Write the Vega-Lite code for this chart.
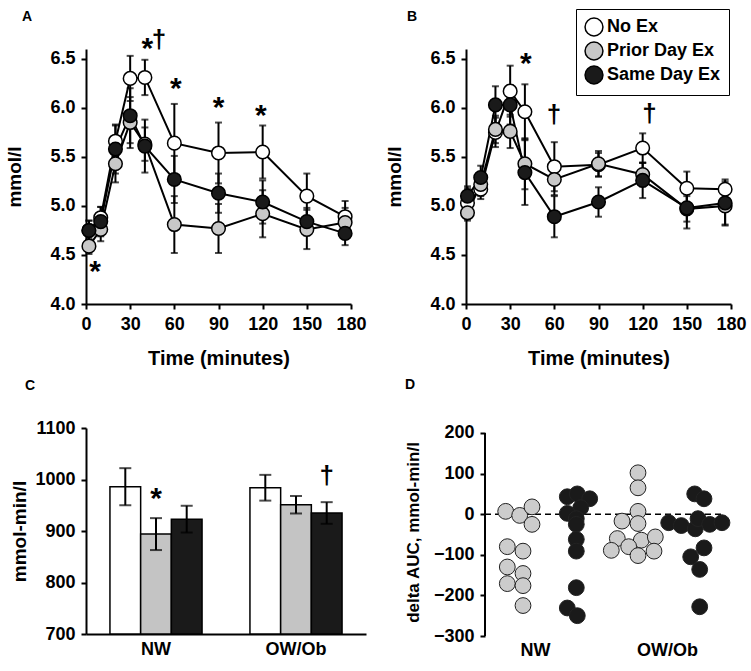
{
  "$schema": "https://vega.github.io/schema/vega-lite/v6.json",
  "background": "white",
  "autosize": {"type": "pad"},
  "padding": {"left": 5, "top": 8, "right": 5, "bottom": 5},
  "config": {
    "view": {"stroke": null},
    "font": "Liberation Sans",
    "axis": {
      "grid": false, "domainColor": "black", "domainWidth": 2, "tickColor": "black", "tickWidth": 2, "tickSize": 5,
      "labelFont": "Liberation Sans", "labelFontWeight": "bold", "labelFontSize": 18, "labelColor": "black", "labelPadding": 6, "labelFlush": false,
      "titleFont": "Liberation Sans", "titleFontWeight": "bold", "titleFontSize": 19, "titleColor": "black"
    },
    "title": {"font": "Liberation Sans", "fontWeight": "bold", "fontSize": 14, "color": "black", "anchor": "start", "frame": "group"}
  },
  "datasets": {
    "nw": [
      {"time": 2, "cond": "No Ex", "mean": 4.75, "err": 0.10},
      {"time": 10, "cond": "No Ex", "mean": 4.88, "err": 0.11},
      {"time": 20, "cond": "No Ex", "mean": 5.66, "err": 0.16},
      {"time": 30, "cond": "No Ex", "mean": 6.30, "err": 0.23},
      {"time": 40, "cond": "No Ex", "mean": 6.31, "err": 0.18},
      {"time": 60, "cond": "No Ex", "mean": 5.64, "err": 0.40},
      {"time": 90, "cond": "No Ex", "mean": 5.54, "err": 0.31},
      {"time": 120, "cond": "No Ex", "mean": 5.55, "err": 0.27},
      {"time": 150, "cond": "No Ex", "mean": 5.10, "err": 0.23},
      {"time": 176, "cond": "No Ex", "mean": 4.89, "err": 0.16},
      {"time": 2, "cond": "Prior Day Ex", "mean": 4.59, "err": 0.08},
      {"time": 10, "cond": "Prior Day Ex", "mean": 4.76, "err": 0.12},
      {"time": 20, "cond": "Prior Day Ex", "mean": 5.43, "err": 0.19},
      {"time": 30, "cond": "Prior Day Ex", "mean": 5.85, "err": 0.26},
      {"time": 40, "cond": "Prior Day Ex", "mean": 5.63, "err": 0.17},
      {"time": 60, "cond": "Prior Day Ex", "mean": 4.81, "err": 0.29},
      {"time": 90, "cond": "Prior Day Ex", "mean": 4.77, "err": 0.25},
      {"time": 120, "cond": "Prior Day Ex", "mean": 4.92, "err": 0.24},
      {"time": 150, "cond": "Prior Day Ex", "mean": 4.76, "err": 0.20},
      {"time": 176, "cond": "Prior Day Ex", "mean": 4.83, "err": 0.15},
      {"time": 2, "cond": "Same Day Ex", "mean": 4.75, "err": 0.10},
      {"time": 10, "cond": "Same Day Ex", "mean": 4.84, "err": 0.15},
      {"time": 20, "cond": "Same Day Ex", "mean": 5.58, "err": 0.25},
      {"time": 30, "cond": "Same Day Ex", "mean": 5.92, "err": 0.28},
      {"time": 40, "cond": "Same Day Ex", "mean": 5.61, "err": 0.27},
      {"time": 60, "cond": "Same Day Ex", "mean": 5.27, "err": 0.24},
      {"time": 90, "cond": "Same Day Ex", "mean": 5.13, "err": 0.20},
      {"time": 120, "cond": "Same Day Ex", "mean": 5.04, "err": 0.22},
      {"time": 150, "cond": "Same Day Ex", "mean": 4.84, "err": 0.14},
      {"time": 176, "cond": "Same Day Ex", "mean": 4.72, "err": 0.12}
    ],
    "ow": [
      {"time": 1, "cond": "No Ex", "mean": 5.03, "err": 0.15},
      {"time": 10, "cond": "No Ex", "mean": 5.17, "err": 0.10},
      {"time": 20, "cond": "No Ex", "mean": 5.75, "err": 0.15},
      {"time": 30, "cond": "No Ex", "mean": 6.17, "err": 0.26},
      {"time": 40, "cond": "No Ex", "mean": 5.96, "err": 0.28},
      {"time": 60, "cond": "No Ex", "mean": 5.40, "err": 0.25},
      {"time": 90, "cond": "No Ex", "mean": 5.42, "err": 0.12},
      {"time": 120, "cond": "No Ex", "mean": 5.59, "err": 0.15},
      {"time": 150, "cond": "No Ex", "mean": 5.18, "err": 0.17},
      {"time": 176, "cond": "No Ex", "mean": 5.17, "err": 0.10},
      {"time": 1, "cond": "Prior Day Ex", "mean": 4.93, "err": 0.08},
      {"time": 10, "cond": "Prior Day Ex", "mean": 5.22, "err": 0.12},
      {"time": 20, "cond": "Prior Day Ex", "mean": 5.78, "err": 0.14},
      {"time": 30, "cond": "Prior Day Ex", "mean": 5.76, "err": 0.17},
      {"time": 40, "cond": "Prior Day Ex", "mean": 5.43, "err": 0.26},
      {"time": 60, "cond": "Prior Day Ex", "mean": 5.27, "err": 0.16},
      {"time": 90, "cond": "Prior Day Ex", "mean": 5.43, "err": 0.13},
      {"time": 120, "cond": "Prior Day Ex", "mean": 5.32, "err": 0.12},
      {"time": 150, "cond": "Prior Day Ex", "mean": 4.97, "err": 0.13},
      {"time": 176, "cond": "Prior Day Ex", "mean": 5.00, "err": 0.20},
      {"time": 1, "cond": "Same Day Ex", "mean": 5.10, "err": 0.10},
      {"time": 10, "cond": "Same Day Ex", "mean": 5.29, "err": 0.12},
      {"time": 20, "cond": "Same Day Ex", "mean": 6.03, "err": 0.19},
      {"time": 30, "cond": "Same Day Ex", "mean": 6.03, "err": 0.20},
      {"time": 40, "cond": "Same Day Ex", "mean": 5.34, "err": 0.33},
      {"time": 60, "cond": "Same Day Ex", "mean": 4.89, "err": 0.21},
      {"time": 90, "cond": "Same Day Ex", "mean": 5.04, "err": 0.15},
      {"time": 120, "cond": "Same Day Ex", "mean": 5.26, "err": 0.18},
      {"time": 150, "cond": "Same Day Ex", "mean": 4.98, "err": 0.21},
      {"time": 176, "cond": "Same Day Ex", "mean": 5.03, "err": 0.22}
    ],
    "annA": [
      {"time": 6.1, "val": 4.39, "sym": "*"},
      {"time": 41.7, "val": 6.66, "sym": "*"},
      {"time": 61, "val": 6.255, "sym": "*"},
      {"time": 90, "val": 6.06, "sym": "*"},
      {"time": 118.8, "val": 5.98, "sym": "*"}
    ],
    "dagA": [
      {"time": 49.5, "val": 6.68, "sym": "†"}
    ],
    "lblA": [
      {"time": -40, "val": 6.93, "sym": "A"}
    ],
    "annB": [
      {"time": 40.6, "val": 6.51, "sym": "*"}
    ],
    "dagB": [
      {"time": 59.8, "val": 5.915, "sym": "†"},
      {"time": 124.7, "val": 5.93, "sym": "†"}
    ],
    "auc": [
      {"group": "NW", "cond": "No Ex", "value": 986, "err": 36},
      {"group": "NW", "cond": "Prior Day Ex", "value": 894, "err": 31},
      {"group": "NW", "cond": "Same Day Ex", "value": 923, "err": 26},
      {"group": "OW/Ob", "cond": "No Ex", "value": 984, "err": 25},
      {"group": "OW/Ob", "cond": "Prior Day Ex", "value": 951, "err": 17},
      {"group": "OW/Ob", "cond": "Same Day Ex", "value": 935, "err": 21}
    ],
    "annC": [
      {"group": "NW", "cond": "Prior Day Ex", "val": 974, "sym": "*"}
    ],
    "dagC": [
      {"group": "OW/Ob", "cond": "Same Day Ex", "val": 1005, "sym": "†"}
    ],
    "refs": [
      {"ylo": -300, "yhi": 200, "zero": 0, "xlo": 0, "xhi": 24}
    ],
    "dauc": [
      {"group": "NW", "cond": "Prior Day Ex", "pos": 2.07, "delta": 7},
      {"group": "NW", "cond": "Prior Day Ex", "pos": 3.47, "delta": -3},
      {"group": "NW", "cond": "Prior Day Ex", "pos": 4.7, "delta": 18},
      {"group": "NW", "cond": "Prior Day Ex", "pos": 4.7, "delta": -25},
      {"group": "NW", "cond": "Prior Day Ex", "pos": 2.23, "delta": -80},
      {"group": "NW", "cond": "Prior Day Ex", "pos": 3.8, "delta": -91},
      {"group": "NW", "cond": "Prior Day Ex", "pos": 2.23, "delta": -130},
      {"group": "NW", "cond": "Prior Day Ex", "pos": 3.8, "delta": -146},
      {"group": "NW", "cond": "Prior Day Ex", "pos": 2.23, "delta": -171},
      {"group": "NW", "cond": "Prior Day Ex", "pos": 3.8, "delta": -176},
      {"group": "NW", "cond": "Prior Day Ex", "pos": 3.8, "delta": -225},
      {"group": "NW", "cond": "Same Day Ex", "pos": 8.23, "delta": 43},
      {"group": "NW", "cond": "Same Day Ex", "pos": 9.23, "delta": 50},
      {"group": "NW", "cond": "Same Day Ex", "pos": 10.47, "delta": 38},
      {"group": "NW", "cond": "Same Day Ex", "pos": 9.57, "delta": 16},
      {"group": "NW", "cond": "Same Day Ex", "pos": 8.23, "delta": 2},
      {"group": "NW", "cond": "Same Day Ex", "pos": 9.13, "delta": -11},
      {"group": "NW", "cond": "Same Day Ex", "pos": 9.13, "delta": -25},
      {"group": "NW", "cond": "Same Day Ex", "pos": 9.13, "delta": -62},
      {"group": "NW", "cond": "Same Day Ex", "pos": 9.13, "delta": -91},
      {"group": "NW", "cond": "Same Day Ex", "pos": 9.13, "delta": -181},
      {"group": "NW", "cond": "Same Day Ex", "pos": 8.23, "delta": -231},
      {"group": "NW", "cond": "Same Day Ex", "pos": 9.23, "delta": -250},
      {"group": "OW/Ob", "cond": "Prior Day Ex", "pos": 15.3, "delta": 102},
      {"group": "OW/Ob", "cond": "Prior Day Ex", "pos": 15.3, "delta": 65},
      {"group": "OW/Ob", "cond": "Prior Day Ex", "pos": 15.3, "delta": 7},
      {"group": "OW/Ob", "cond": "Prior Day Ex", "pos": 13.7, "delta": -17},
      {"group": "OW/Ob", "cond": "Prior Day Ex", "pos": 15.3, "delta": -23},
      {"group": "OW/Ob", "cond": "Prior Day Ex", "pos": 13.23, "delta": -60},
      {"group": "OW/Ob", "cond": "Prior Day Ex", "pos": 15.63, "delta": -64},
      {"group": "OW/Ob", "cond": "Prior Day Ex", "pos": 17.03, "delta": -56},
      {"group": "OW/Ob", "cond": "Prior Day Ex", "pos": 12.63, "delta": -89},
      {"group": "OW/Ob", "cond": "Prior Day Ex", "pos": 14.37, "delta": -80},
      {"group": "OW/Ob", "cond": "Prior Day Ex", "pos": 15.3, "delta": -102},
      {"group": "OW/Ob", "cond": "Prior Day Ex", "pos": 16.9, "delta": -91},
      {"group": "OW/Ob", "cond": "Same Day Ex", "pos": 20.97, "delta": 50},
      {"group": "OW/Ob", "cond": "Same Day Ex", "pos": 21.9, "delta": 38},
      {"group": "OW/Ob", "cond": "Same Day Ex", "pos": 18.37, "delta": -21},
      {"group": "OW/Ob", "cond": "Same Day Ex", "pos": 19.63, "delta": -28},
      {"group": "OW/Ob", "cond": "Same Day Ex", "pos": 21.03, "delta": -36},
      {"group": "OW/Ob", "cond": "Same Day Ex", "pos": 21.3, "delta": -11},
      {"group": "OW/Ob", "cond": "Same Day Ex", "pos": 22.47, "delta": -25},
      {"group": "OW/Ob", "cond": "Same Day Ex", "pos": 23.7, "delta": -21},
      {"group": "OW/Ob", "cond": "Same Day Ex", "pos": 21.9, "delta": -83},
      {"group": "OW/Ob", "cond": "Same Day Ex", "pos": 20.57, "delta": -105},
      {"group": "OW/Ob", "cond": "Same Day Ex", "pos": 21.47, "delta": -136},
      {"group": "OW/Ob", "cond": "Same Day Ex", "pos": 21.47, "delta": -228}
    ]
  },
  "resolve": {"scale": {"x": "independent", "y": "independent", "fill": "independent"}, "axis": {"x": "independent", "y": "independent"}, "legend": {"fill": "independent"}},
  "bounds": "flush",
  "spacing": 379,
  "vconcat": [
    {
      "bounds": "flush",
      "spacing": 115,
      "resolve": {"scale": {"x": "independent", "y": "independent", "fill": "independent"}, "axis": {"x": "independent", "y": "independent"}, "legend": {"fill": "independent"}},
      "hconcat": [
        {
          "width": 265, "height": 255,
          "layer": [
            {
              "data": {"name": "nw"},
              "mark": {"type": "line", "color": "black", "strokeWidth": 2},
              "encoding": {
                "x": {"field": "time", "type": "quantitative", "title": "Time (minutes)", "scale": {"domain": [0, 180], "nice": false},
                      "axis": {"values": [0, 30, 60, 90, 120, 150, 180], "titlePadding": 15, "titleFontSize": 20}},
                "y": {"field": "mean", "type": "quantitative", "title": "mmol/l", "scale": {"domain": [4, 6.6], "nice": false, "zero": false},
                      "axis": {"values": [4, 4.5, 5, 5.5, 6, 6.5], "format": ".1f", "titlePadding": 25}},
                "detail": {"field": "cond"}
              }
            },
            {
              "data": {"name": "nw"},
              "mark": {"type": "errorbar", "color": "black", "thickness": 2, "ticks": {"size": 7, "color": "black"}},
              "encoding": {
                "x": {"field": "time", "type": "quantitative", "title": "Time (minutes)"},
                "y": {"field": "mean", "type": "quantitative", "title": "mmol/l"},
                "yError": {"field": "err"}
              }
            },
            {
              "data": {"name": "nw"},
              "mark": {"type": "point", "shape": "circle", "filled": true, "size": 185, "stroke": "black", "strokeWidth": 1.5, "opacity": 1},
              "encoding": {
                "x": {"field": "time", "type": "quantitative", "title": "Time (minutes)"},
                "y": {"field": "mean", "type": "quantitative", "title": "mmol/l"},
                "fill": {"field": "cond", "type": "nominal", "scale": {"domain": ["No Ex", "Prior Day Ex", "Same Day Ex"], "range": ["white", "#c8c8c8", "#1a1a1a"]}, "legend": null}
              }
            },
            {
              "data": {"name": "annA"},
              "mark": {"type": "text", "font": "Liberation Sans", "fontWeight": "bold", "fontSize": 30, "baseline": "alphabetic", "dy": 15, "color": "black"},
              "encoding": {
                "x": {"field": "time", "type": "quantitative", "title": "Time (minutes)"},
                "y": {"field": "val", "type": "quantitative", "title": "mmol/l"},
                "text": {"field": "sym"}
              }
            },
            {
              "data": {"name": "dagA"},
              "mark": {"type": "text", "font": "Liberation Sans", "fontWeight": "bold", "fontSize": 26, "baseline": "alphabetic", "dy": 7, "color": "black"},
              "encoding": {
                "x": {"field": "time", "type": "quantitative", "title": "Time (minutes)"},
                "y": {"field": "val", "type": "quantitative", "title": "mmol/l"},
                "text": {"field": "sym"}
              }
            },
            {
              "data": {"name": "lblA"},
              "mark": {"type": "text", "font": "Liberation Sans", "fontWeight": "bold", "fontSize": 14, "baseline": "middle", "align": "center", "color": "black"},
              "encoding": {
                "x": {"field": "time", "type": "quantitative", "title": "Time (minutes)"},
                "y": {"field": "val", "type": "quantitative", "title": "mmol/l"},
                "text": {"field": "sym"}
              }
            }
          ]
        },
        {
          "width": 265, "height": 255,
          "title": {"text": "B", "dx": -59, "offset": -15},
          "layer": [
            {
              "data": {"name": "ow"},
              "mark": {"type": "line", "color": "black", "strokeWidth": 2},
              "encoding": {
                "x": {"field": "time", "type": "quantitative", "title": "Time (minutes)", "scale": {"domain": [0, 180], "nice": false},
                      "axis": {"values": [0, 30, 60, 90, 120, 150, 180], "titlePadding": 15, "titleFontSize": 20}},
                "y": {"field": "mean", "type": "quantitative", "title": "mmol/l", "scale": {"domain": [4, 6.6], "nice": false, "zero": false},
                      "axis": {"values": [4, 4.5, 5, 5.5, 6, 6.5], "format": ".1f", "titlePadding": 25}},
                "detail": {"field": "cond"}
              }
            },
            {
              "data": {"name": "ow"},
              "mark": {"type": "errorbar", "color": "black", "thickness": 2, "ticks": {"size": 7, "color": "black"}},
              "encoding": {
                "x": {"field": "time", "type": "quantitative", "title": "Time (minutes)"},
                "y": {"field": "mean", "type": "quantitative", "title": "mmol/l"},
                "yError": {"field": "err"}
              }
            },
            {
              "data": {"name": "ow"},
              "mark": {"type": "point", "shape": "circle", "filled": true, "size": 185, "stroke": "black", "strokeWidth": 1.5, "opacity": 1},
              "encoding": {
                "x": {"field": "time", "type": "quantitative", "title": "Time (minutes)"},
                "y": {"field": "mean", "type": "quantitative", "title": "mmol/l"},
                "fill": {"field": "cond", "type": "nominal", "scale": {"domain": ["No Ex", "Prior Day Ex", "Same Day Ex"], "range": ["white", "#c8c8c8", "#1a1a1a"]},
                         "legend": {"title": null, "orient": "none", "legendX": 110, "legendY": -40, "strokeColor": "black", "padding": 8,
                                    "symbolType": "circle", "symbolSize": 320, "symbolStrokeColor": "black", "symbolStrokeWidth": 1.5, "symbolOpacity": 1,
                                    "labelFont": "Liberation Sans", "labelFontWeight": "bold", "labelFontSize": 18, "labelColor": "black", "labelOffset": 3, "rowPadding": 0, "fillColor": "white"}}
              }
            },
            {
              "data": {"name": "annB"},
              "mark": {"type": "text", "font": "Liberation Sans", "fontWeight": "bold", "fontSize": 30, "baseline": "alphabetic", "dy": 15, "color": "black"},
              "encoding": {
                "x": {"field": "time", "type": "quantitative", "title": "Time (minutes)"},
                "y": {"field": "val", "type": "quantitative", "title": "mmol/l"},
                "text": {"field": "sym"}
              }
            },
            {
              "data": {"name": "dagB"},
              "mark": {"type": "text", "font": "Liberation Sans", "fontWeight": "bold", "fontSize": 26, "baseline": "alphabetic", "dy": 7, "color": "black"},
              "encoding": {
                "x": {"field": "time", "type": "quantitative", "title": "Time (minutes)"},
                "y": {"field": "val", "type": "quantitative", "title": "mmol/l"},
                "text": {"field": "sym"}
              }
            }
          ]
        }
      ]
    },
    {
      "bounds": "flush",
      "spacing": 119,
      "resolve": {"scale": {"x": "independent", "y": "independent", "fill": "independent"}, "axis": {"x": "independent", "y": "independent"}, "legend": {"fill": "independent"}},
      "hconcat": [
        {
          "width": 280, "height": 206,
          "title": {"text": "C", "dx": -61, "offset": 26},
          "layer": [
            {
              "data": {"name": "auc"},
              "mark": {"type": "bar", "stroke": "black", "strokeWidth": 1.5},
              "encoding": {
                "x": {"field": "group", "type": "nominal", "title": null, "scale": {"paddingInner": 0, "paddingOuter": 0},
                      "axis": {"ticks": false, "labelAngle": 0, "labelPadding": 6}},
                "xOffset": {"field": "cond", "type": "nominal", "scale": {"domain": ["No Ex", "Prior Day Ex", "Same Day Ex"], "paddingInner": 0, "paddingOuter": 0.78}},
                "y": {"field": "value", "type": "quantitative", "title": "mmol-min/l", "scale": {"domain": [700, 1100], "nice": false, "zero": false},
                      "axis": {"values": [700, 800, 900, 1000, 1100], "format": "d", "titlePadding": 5}},
                "y2": {"datum": 700},
                "fill": {"field": "cond", "type": "nominal", "scale": {"domain": ["No Ex", "Prior Day Ex", "Same Day Ex"], "range": ["white", "#c4c4c4", "#1a1a1a"]}, "legend": null}
              }
            },
            {
              "data": {"name": "auc"},
              "mark": {"type": "errorbar", "color": "black", "thickness": 2, "ticks": {"size": 12, "color": "black"}},
              "encoding": {
                "x": {"field": "group", "type": "nominal", "title": null},
                "xOffset": {"field": "cond", "type": "nominal"},
                "y": {"field": "value", "type": "quantitative", "title": "mmol-min/l"},
                "yError": {"field": "err"}
              }
            },
            {
              "data": {"name": "annC"},
              "mark": {"type": "text", "font": "Liberation Sans", "fontWeight": "bold", "fontSize": 30, "baseline": "alphabetic", "dy": 15, "color": "black"},
              "encoding": {
                "x": {"field": "group", "type": "nominal", "title": null},
                "xOffset": {"field": "cond", "type": "nominal"},
                "y": {"field": "val", "type": "quantitative", "title": "mmol-min/l"},
                "text": {"field": "sym"}
              }
            },
            {
              "data": {"name": "dagC"},
              "mark": {"type": "text", "font": "Liberation Sans", "fontWeight": "bold", "fontSize": 26, "baseline": "alphabetic", "dy": 7, "color": "black"},
              "encoding": {
                "x": {"field": "group", "type": "nominal", "title": null},
                "xOffset": {"field": "cond", "type": "nominal"},
                "y": {"field": "val", "type": "quantitative", "title": "mmol-min/l"},
                "text": {"field": "sym"}
              }
            }
          ]
        },
        {
          "width": 240, "height": 208,
          "title": {"text": "D", "dx": -80, "offset": 32},
          "layer": [
            {
              "data": {"name": "refs"},
              "mark": {"type": "rule", "color": "black", "strokeWidth": 2},
              "encoding": {
                "x": {"field": "xlo", "type": "quantitative", "title": null},
                "y": {"field": "ylo", "type": "quantitative", "title": "delta AUC, mmol-min/l"},
                "y2": {"field": "yhi"}
              }
            },
            {
              "data": {"name": "refs"},
              "mark": {"type": "rule", "color": "black", "strokeWidth": 1.5, "strokeDash": [6, 4]},
              "encoding": {
                "x": {"field": "xlo", "type": "quantitative", "title": null},
                "x2": {"field": "xhi"},
                "y": {"field": "zero", "type": "quantitative", "title": "delta AUC, mmol-min/l"}
              }
            },
            {
              "data": {"name": "dauc"},
              "mark": {"type": "point", "shape": "circle", "filled": true, "size": 250, "stroke": "#222222", "strokeWidth": 1, "opacity": 1},
              "encoding": {
                "x": {"field": "pos", "type": "quantitative", "title": null, "scale": {"domain": [0, 24], "nice": false, "zero": false},
                      "axis": {"values": [5, 18.2], "labelExpr": "datum.value < 10 ? 'NW' : 'OW/Ob'", "domain": false, "ticks": false, "labelPadding": 5}},
                "y": {"field": "delta", "type": "quantitative", "title": "delta AUC, mmol-min/l", "scale": {"domain": [-300, 212.3], "nice": false, "zero": false},
                      "axis": {"values": [-300, -200, -100, 0, 100, 200], "domain": false, "titlePadding": 11, "titleFontSize": 17}},
                "fill": {"field": "cond", "type": "nominal", "scale": {"domain": ["Prior Day Ex", "Same Day Ex"], "range": ["#cccccc", "#1a1a1a"]}, "legend": null}
              }
            }
          ]
        }
      ]
    }
  ]
}
